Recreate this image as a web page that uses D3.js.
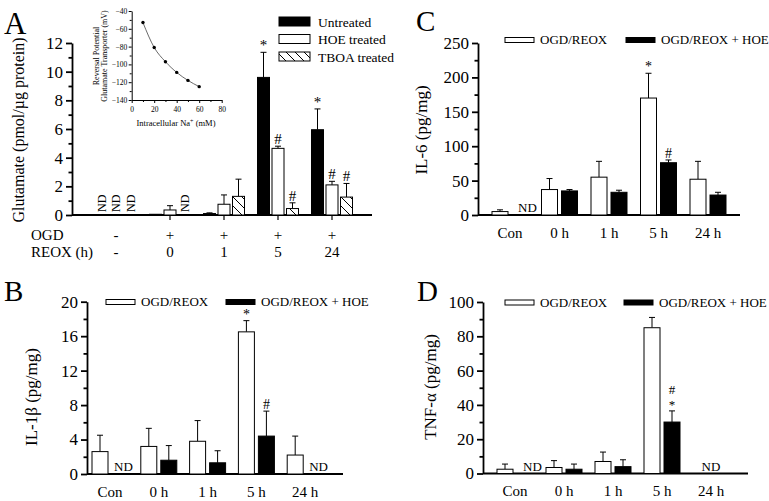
<!DOCTYPE html>
<html><head><meta charset="utf-8">
<script src="https://cdn.jsdelivr.net/npm/d3@7/dist/d3.min.js"></script>
<style>
body{margin:0;background:#fff}
svg{display:block}
text{font-family:"Liberation Serif","Times New Roman",serif;fill:#000}
</style>
</head><body>
<svg id="chart" width="769" height="501"></svg>
<script>
// ---------------- DATA ----------------
// Panel A: glutamate release
const groupsA = ["ctrl", "0", "1", "5", "24"];
const ogdLabels = ["-", "+", "+", "+", "+"];
const reoxLabels = ["-", "0", "1", "5", "24"];
const seriesA = ["Untreated", "HOE treated", "TBOA treated"];
const gluUntreated = [null, 0.05, 0.1, 9.6, 5.95];
const gluUntreatedErr = [null, 0, 0.05, 1.75, 1.45];
const gluHOE = [null, 0.35, 0.75, 4.65, 2.1];
const gluHOEErr = [null, 0.3, 0.65, 0.15, 0.25];
const gluTBOA = [null, null, 1.3, 0.45, 1.25];
const gluTBOAErr = [null, null, 1.2, 0.4, 0.95];
const sigUntreated = ["", "", "", "*", "*"];
const sigHOE = ["", "", "", "#", "#"];
const sigTBOA = ["", "", "", "#", "#"];
const ticksA = [0, 2, 4, 6, 8, 10, 12];

// Inset: reversal potential
const naConc = [10, 20, 30, 40, 50, 60];
const revPot = [-53, -81, -97, -109, -118, -125];

// Panels B-D shared
const cats = ["Con", "0 h", "1 h", "5 h", "24 h"];
const legendBCD = ["OGD/REOX", "OGD/REOX + HOE"];

// Panel B: IL-1beta
const il1bOGD = [2.6, 3.2, 3.8, 16.5, 2.2];
const il1bOGDErr = [1.9, 2.1, 2.4, 1.3, 2.2];
const il1bHOE = [null, 1.6, 1.3, 4.4, null];
const il1bHOEErr = [null, 1.7, 1.4, 2.9, null];
const sigB_OGD = ["", "", "", "*", ""];
const sigB_HOE = ["", "", "", "#", ""];
const ticksB = [0, 4, 8, 12, 16, 20];

// Panel C: IL-6
const il6OGD = [5, 37, 55, 170, 52];
const il6OGDErr = [2.5, 16, 23, 36, 26];
const il6HOE = [null, 35, 33, 76, 29];
const il6HOEErr = [null, 2, 3, 4, 4];
const sigC_OGD = ["", "", "", "*", ""];
const sigC_HOE = ["", "", "", "#", ""];
const ticksC = [0, 50, 100, 150, 200, 250];

// Panel D: TNF-alpha
const tnfOGD = [2.5, 3.5, 7, 85, null];
const tnfOGDErr = [3, 4, 5.5, 6, null];
const tnfHOE = [null, 2.5, 4, 30, null];
const tnfHOEErr = [null, 3, 4, 6.5, null];
const sigD_OGD = ["", "", "", "", ""];
const sigD_HOE = ["", "", "", "#*", ""];
const ticksD = [0, 20, 40, 60, 80, 100];

// ---------------- DRAWING ----------------
const svg = d3.select("#chart");
const defs = svg.append("defs");
const pat = defs.append("pattern").attr("id", "hatch").attr("patternUnits", "userSpaceOnUse")
  .attr("width", 9).attr("height", 9);
pat.append("rect").attr("width", 9).attr("height", 9).attr("fill", "#fff");
pat.append("path").attr("d", "M-1,-1L10,10M-1,8L1,10M8,-1L10,1").attr("stroke", "#000").attr("stroke-width", 1);

const AXW = 1.8;

function midTicks(ticks) {
  const out = [];
  for (let i = 0; i < ticks.length - 1; i++) out.push((ticks[i] + ticks[i + 1]) / 2);
  return out;
}

function drawYAxis(y, x, ticks, fs, majorLen, minorLen, sw) {
  const gMin = svg.append("g").attr("transform", `translate(${x},0)`)
    .call(d3.axisLeft(y).tickValues(midTicks(ticks)).tickSize(minorLen).tickSizeOuter(0).tickFormat(""));
  gMin.select(".domain").remove();
  const gMaj = svg.append("g").attr("transform", `translate(${x},0)`)
    .call(d3.axisLeft(y).tickValues(ticks).tickSize(majorLen).tickSizeOuter(0).tickPadding(3));
  [gMin, gMaj].forEach(g => {
    g.selectAll("line,path").attr("stroke", "#000").attr("stroke-width", sw);
    g.selectAll("text").attr("font-size", fs).attr("font-family", null);
  });
  return gMaj;
}

function hLine(x1, x2, y, sw) {
  svg.append("line").attr("x1", x1).attr("x2", x2).attr("y1", y).attr("y2", y)
    .attr("stroke", "#000").attr("stroke-width", sw);
}

function drawBar(cx, w, v, e, y, fill, sig, sigFs) {
  const y0 = y(0);
  if (e != null && e > 0) {
    svg.append("line").attr("x1", cx).attr("x2", cx).attr("y1", y(v)).attr("y2", y(v + e))
      .attr("stroke", "#000").attr("stroke-width", 1);
    svg.append("line").attr("x1", cx - 3).attr("x2", cx + 3).attr("y1", y(v + e)).attr("y2", y(v + e))
      .attr("stroke", "#000").attr("stroke-width", 1);
  }
  svg.append("rect").attr("x", cx - w / 2).attr("y", y(v)).attr("width", w)
    .attr("height", Math.max(0.5, y0 - y(v)))
    .attr("fill", fill).attr("stroke", "#000").attr("stroke-width", 1);
  if (sig) {
    const top = y(v + (e || 0));
    const chars = sig.split("");
    const n = chars.length;
    const fs = n > 1 ? sigFs - 1 : sigFs;
    chars.forEach((c, k) => {
      svg.append("text").attr("x", cx).attr("y", top - 2 - (n - 1 - k) * 15)
        .attr("text-anchor", "middle").attr("font-size", fs).text(c);
    });
  }
}

// ---------- Panel A ----------
(function () {
  const y = d3.scaleLinear().domain([0, 12]).range([215, 43]);
  const xg = d3.scaleBand().domain(groupsA).range([89, 359]);
  const xs = d3.scaleBand().domain(seriesA).range([-20.5, 20.5]).paddingInner(2.5 / 14.5);
  const bw = xs.bandwidth();
  drawYAxis(y, 72, ticksA, 17, 6, 3.5, AXW);
  hLine(72, 372, y(0), AXW);
  const gx = svg.append("g").attr("transform", `translate(0,${y(0)})`)
    .call(d3.axisBottom(xg).tickValues(groupsA.slice(1)).tickSize(5).tickFormat(""));
  gx.select(".domain").remove();
  gx.selectAll("line").attr("stroke", "#000").attr("stroke-width", 1.2);

  const vals = [gluUntreated, gluHOE, gluTBOA];
  const errs = [gluUntreatedErr, gluHOEErr, gluTBOAErr];
  const sigs = [sigUntreated, sigHOE, sigTBOA];
  const fills = ["#000", "#fff", "url(#hatch)"];
  groupsA.forEach((gname, i) => {
    seriesA.forEach((s, j) => {
      const cx = xg(gname) + xg.bandwidth() / 2 + xs(s) + bw / 2;
      const v = vals[j][i];
      if (v == null) {
        svg.append("text").attr("transform", `translate(${cx + 4},${y(0) - 3}) rotate(-90)`)
          .attr("font-size", 12).text("ND");
      } else {
        drawBar(cx, bw, v, errs[j][i], y, fills[j], sigs[j][i], 15);
      }
    });
  });
  svg.append("text").attr("x", 31).attr("y", 240).attr("font-size", 15).text("OGD");
  svg.append("text").attr("x", 31).attr("y", 257).attr("font-size", 15).text("REOX (h)");
  groupsA.forEach((gname, i) => {
    const cx = xg(gname) + xg.bandwidth() / 2;
    svg.append("text").attr("x", cx).attr("y", 240).attr("text-anchor", "middle").attr("font-size", 15).text(ogdLabels[i]);
    svg.append("text").attr("x", cx).attr("y", 257).attr("text-anchor", "middle").attr("font-size", 15).text(reoxLabels[i]);
  });
  svg.append("text").attr("transform", `translate(24,130) rotate(-90)`).attr("text-anchor", "middle")
    .attr("font-size", 16).text("Glutamate (pmol/\u00b5g protein)");
  svg.append("text").attr("x", 4).attr("y", 34).attr("font-size", 31).text("A");
  seriesA.forEach((s, j) => {
    const ly = 17 + j * 17.5;
    svg.append("rect").attr("x", 279).attr("y", ly).attr("width", 31).attr("height", 9)
      .attr("fill", fills[j]).attr("stroke", "#000").attr("stroke-width", 1);
    svg.append("text").attr("x", 318).attr("y", ly + 9.5).attr("font-size", 13.5).text(s);
  });

  // inset
  const xi = d3.scaleLinear().domain([0, 80]).range([131.7, 221.7]);
  const yi = d3.scaleLinear().domain([-140, -40]).range([100, 11]);
  const gyi = svg.append("g").attr("transform", "translate(131.7,0)")
    .call(d3.axisLeft(yi).tickValues([-140, -120, -100, -80, -60, -40]).tickSize(3).tickSizeOuter(0).tickPadding(1.5));
  const gyi2 = svg.append("g").attr("transform", "translate(131.7,0)")
    .call(d3.axisLeft(yi).tickValues([-130, -110, -90, -70, -50]).tickSize(2).tickFormat(""));
  gyi2.select(".domain").remove();
  const gxi = svg.append("g").attr("transform", "translate(0,100)")
    .call(d3.axisBottom(xi).tickValues([0, 20, 40, 60, 80]).tickSize(3).tickSizeOuter(0).tickPadding(4));
  const gxi2 = svg.append("g").attr("transform", "translate(0,100)")
    .call(d3.axisBottom(xi).tickValues([10, 30, 50, 70]).tickSize(2).tickFormat(""));
  gxi2.select(".domain").remove();
  [gyi, gyi2, gxi, gxi2].forEach(g => {
    g.selectAll("line,path").attr("stroke", "#000").attr("stroke-width", 1);
    g.selectAll("text").attr("font-size", 7.5).attr("font-family", null);
  });
  const line = d3.line().x((d, i) => xi(naConc[i])).y(d => yi(d)).curve(d3.curveMonotoneX);
  svg.append("path").attr("d", line(revPot)).attr("fill", "none").attr("stroke", "#444").attr("stroke-width", 0.8);
  revPot.forEach((d, i) => {
    svg.append("circle").attr("cx", xi(naConc[i])).attr("cy", yi(d)).attr("r", 1.7).attr("fill", "#000");
  });
  const yl = svg.append("text").attr("transform", "translate(99,56) rotate(-90)").attr("text-anchor", "middle").attr("font-size", 8);
  yl.append("tspan").attr("x", 0).attr("dy", 0).text("Reversal Potential");
  yl.append("tspan").attr("x", 0).attr("dy", 8).text("Glutamate Transporter (mV)");
  const xl = svg.append("text").attr("x", 176).attr("y", 126).attr("text-anchor", "middle").attr("font-size", 8.5);
  xl.append("tspan").text("Intracellular Na");
  xl.append("tspan").attr("dy", -3).attr("font-size", 6).text("+");
  xl.append("tspan").attr("dy", 3).text(" (mM)");
})();

// ---------- Panels B, C, D ----------
function drawCytoPanel(L, ogd, ogdErr, hoe, hoeErr, sigO, sigH, ticks, ylabel, letter) {
  const y = d3.scaleLinear().domain([ticks[0], ticks[ticks.length - 1]]).range([L.y0, L.yTop]);
  const xg = d3.scaleBand().domain(cats).range(L.xr);
  const xs = d3.scaleBand().domain(legendBCD).range([-18, 18]).paddingInner(0.2);
  const bw = xs.bandwidth();
  drawYAxis(y, L.ax, ticks, 17, 6, 3.5, AXW);
  hLine(L.ax, L.axEnd, L.y0, AXW);
  const gx = svg.append("g").attr("transform", `translate(0,${L.y0})`)
    .call(d3.axisBottom(xg).tickSize(0).tickPadding(L.labPad));
  gx.select(".domain").remove();
  gx.selectAll("text").attr("font-size", 15).attr("font-family", null);

  const vals = [ogd, hoe], errs = [ogdErr, hoeErr], sigs = [sigO, sigH], fills = ["#fff", "#000"];
  cats.forEach((c, i) => {
    const gc = xg(c) + xg.bandwidth() / 2;
    if (vals[0][i] == null && vals[1][i] == null) {
      svg.append("text").attr("x", gc).attr("y", L.y0 - 3).attr("text-anchor", "middle").attr("font-size", 13).text("ND");
      return;
    }
    legendBCD.forEach((s, j) => {
      const cx = gc + xs(s) + bw / 2;
      const v = vals[j][i];
      if (v == null) {
        svg.append("text").attr("x", cx - bw / 2 + L.ndOff).attr("y", L.y0 - 3).attr("font-size", 13).text("ND");
      } else {
        drawBar(cx, bw, v, errs[j][i], y, fills[j], sigs[j][i], 14);
      }
    });
  });
  legendBCD.forEach((s, j) => {
    svg.append("rect").attr("x", L.legX[j]).attr("y", L.legY).attr("width", 29).attr("height", 5)
      .attr("fill", fills[j]).attr("stroke", "#000").attr("stroke-width", 1);
    svg.append("text").attr("x", L.legX[j] + 35).attr("y", L.legY + 6.5).attr("font-size", 13).text(s);
  });
  svg.append("text").attr("transform", `translate(${L.ylx},${L.yly}) rotate(-90)`).attr("text-anchor", "middle")
    .attr("font-size", 17).text(ylabel);
  svg.append("text").attr("x", L.letX).attr("y", L.letY).attr("font-size", 29).text(letter);
}

drawCytoPanel({ y0: 474, yTop: 301.7, ax: 87, axEnd: 343, xr: [85.6, 329.6], labPad: 12, ndOff: 2,
  legX: [106, 226], legY: 299.5, ylx: 37, yly: 397, letX: 4, letY: 301 },
  il1bOGD, il1bOGDErr, il1bHOE, il1bHOEErr, sigB_OGD, sigB_HOE, ticksB, "IL-1\u03b2 (pg/mg)", "B");

drawCytoPanel({ y0: 215, yTop: 43, ax: 478, axEnd: 740, xr: [485.25, 732.75], labPad: 12, ndOff: 6,
  legX: [505, 626], legY: 37.5, ylx: 427, yly: 130, letX: 416, letY: 31 },
  il6OGD, il6OGDErr, il6HOE, il6HOEErr, sigC_OGD, sigC_HOE, ticksC, "IL-6 (pg/mg)", "C");

drawCytoPanel({ y0: 473.5, yTop: 302, ax: 483, axEnd: 748, xr: [490.5, 735.5], labPad: 12, ndOff: 6,
  legX: [505, 624], legY: 300, ylx: 436, yly: 387, letX: 417, letY: 301 },
  tnfOGD, tnfOGDErr, tnfHOE, tnfHOEErr, sigD_OGD, sigD_HOE, ticksD, "TNF-\u03b1 (pg/mg)", "D");
</script>
</body></html>
